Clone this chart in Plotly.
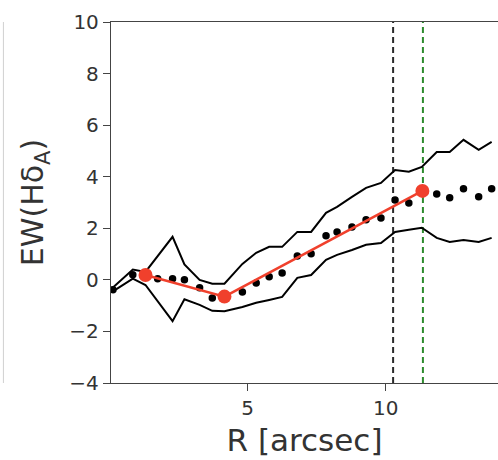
import plotly.graph_objects as go

# radius grid [arcsec]
R = [0.12, 0.84, 1.30, 1.74, 2.28, 2.71, 3.26, 3.72, 4.16, 4.81, 5.31, 5.78, 6.25,
     6.80, 7.30, 7.84, 8.24, 8.78, 9.29, 9.83, 10.34, 10.84, 11.31, 11.85, 12.32,
     12.82, 13.37, 13.84]
# EW(Hdelta_A) profile (dots) and its upper / lower envelope
ew_mid = [-0.38, 0.20, 0.19, 0.04, 0.04, 0.00, -0.31, -0.70, -0.70, -0.47, -0.12,
          0.12, 0.27, 0.93, 1.01, 1.71, 1.86, 2.05, 2.33, 2.40, 3.10, 2.98, 3.41,
          3.33, 3.18, 3.53, 3.22, 3.53]
ew_up = [-0.30, 0.40, 0.31, 0.92, 1.67, 0.60, 0.00, -0.15, -0.15, 0.62, 1.05, 1.28,
         1.28, 1.86, 1.86, 2.60, 2.83, 3.22, 3.57, 3.76, 4.26, 4.19, 4.38, 4.96,
         4.96, 5.43, 5.04, 5.35]
ew_lo = [-0.45, 0.05, -0.20, -0.83, -1.60, -0.75, -0.97, -1.20, -1.22, -1.05, -0.89,
         -0.78, -0.66, 0.08, 0.19, 0.78, 0.97, 1.16, 1.36, 1.43, 1.86, 1.94, 2.02,
         1.63, 1.47, 1.55, 1.47, 1.63]
# binned values (red)
R_bin = [1.30, 4.16, 11.33]
ew_bin = [0.19, -0.65, 3.45]
# reference radii (dashed lines)
r_black = 10.27
r_green = 11.35

y_ticks = [-4, -2, 0, 2, 4, 6, 8, 10]
x_ticks = [5, 10]

fig = go.Figure()

fig.add_vline(x=r_black, line=dict(color="#2a2a2a", width=2, dash="6px,4px"), layer="below")
fig.add_vline(x=r_green, line=dict(color="#2e8b2e", width=2, dash="6px,4px"), layer="below")

fig.add_trace(go.Scatter(x=R, y=ew_up, mode="lines", line=dict(color="black", width=2)))
fig.add_trace(go.Scatter(x=R, y=ew_lo, mode="lines", line=dict(color="black", width=2)))
fig.add_trace(go.Scatter(x=R, y=ew_mid, mode="markers",
                         marker=dict(color="black", size=7.5, line=dict(width=0))))
fig.add_trace(go.Scatter(x=R_bin, y=ew_bin, mode="lines+markers",
                         line=dict(color="#f0402c", width=2.5),
                         marker=dict(color="#f0402c", size=14, line=dict(width=0))))

# faint edge of neighbouring panel
fig.add_shape(type="line", xref="paper", yref="paper", x0=-0.278, x1=-0.278, y0=0, y1=1,
              line=dict(color="#d0d0d0", width=1))

fig.update_layout(
    width=498, height=460,
    margin=dict(l=111, r=0, t=22, b=77),
    paper_bgcolor="white", plot_bgcolor="white",
    showlegend=False,
    font=dict(family="DejaVu Sans", color="#333333"),
)
fig.update_xaxes(range=[0.05, 14.07], tickvals=x_ticks, ticks="outside", ticklen=7,
                 tickwidth=1.3, tickcolor="#444", showline=True, linecolor="#444",
                 linewidth=1.3, mirror=True, showgrid=False, zeroline=False,
                 tickfont=dict(size=20, color="#333"),
                 title=dict(text="R [arcsec]", font=dict(size=31, color="#333"), standoff=10))
fig.update_yaxes(range=[-4, 10], tickvals=y_ticks, ticks="outside", ticklen=7,
                 tickwidth=1.3, tickcolor="#444", showline=True, linecolor="#444",
                 linewidth=1.3, showgrid=False, zeroline=False,
                 tickfont=dict(size=20, color="#333"),
                 title=dict(text="EW(Hδ<sub>A</sub>)", font=dict(size=30, color="#333"), standoff=16))

fig.write_html("out.html")
